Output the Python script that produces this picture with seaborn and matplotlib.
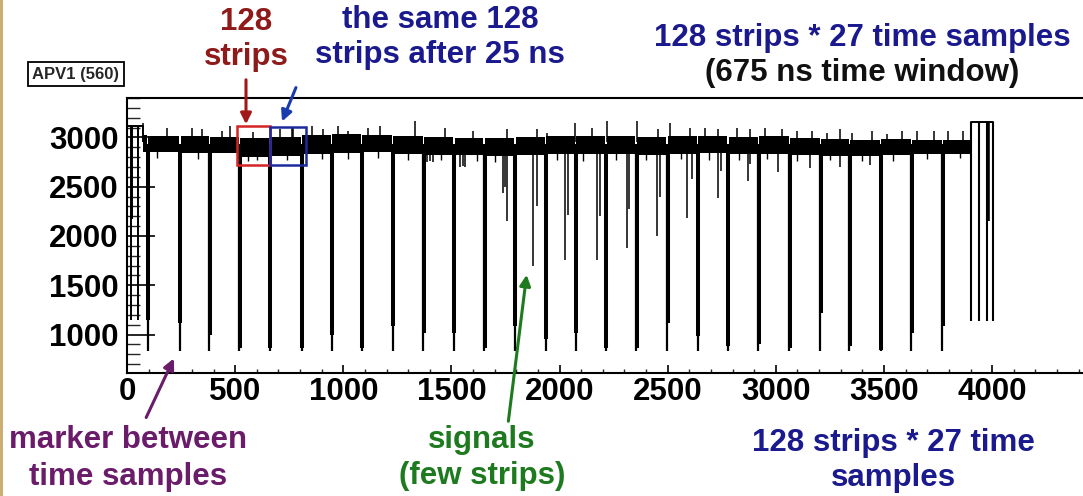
import matplotlib
matplotlib.use("Agg")
import matplotlib.pyplot as plt
import seaborn as sns
import pandas as pd
from matplotlib.patches import Rectangle, FancyArrowPatch
from matplotlib.ticker import MultipleLocator

# ---- APV raw frame: ADC value vs. sample index ----
# header samples before the first marker
header_end = 74
header_level = 3115
header_drop_pos = [18, 22, 49]
header_drop_val = [1150, 2170, 1150]

# synchronisation markers between time samples (27 of them)
marker_pos = [96, 245, 381, 519, 661, 808, 947, 1085, 1229, 1370, 1512, 1651, 1794, 1936,
              2075, 2214, 2354, 2497, 2639, 2778, 2919, 3063, 3205, 3340, 3484, 3627, 3769]
marker_deep = [830, 830, 830, 830, 830, 830, 830, 830, 830, 830, 830, 830, 830, 830,
               830, 830, 830, 830, 830, 830, 830, 830, 830, 830, 830, 830, 830]
marker_second = [1150, 1120, 1000, 860, 860, 860, 1000, 860, 1084, 1020, 1020, 860, 1084, 950,
                 1020, 860, 860, 1120, 983, 880, 900, 860, 1223, 880, 840, 1020, 1084]

# pedestal band (noise envelope) for each block of 128 strips
frame_end = 3901
band_hi = [3025, 3015, 3010, 3005, 2995, 3005, 3020, 3030, 3025, 3010, 3005, 2995, 2990, 3000,
           3010, 3015, 3010, 3005, 3010, 3015, 3005, 3010, 2995, 2980, 2975, 2980, 2975, 2970]
band_lo = [2850, 2850, 2845, 2840, 2805, 2815, 2835, 2845, 2850, 2835, 2825, 2820, 2815, 2820,
           2835, 2835, 2830, 2825, 2835, 2840, 2835, 2835, 2825, 2815, 2810, 2825, 2830, 2835]

# noisy strips sticking out above the pedestal
up_pos = [74, 183, 299, 345, 438, 476, 584, 707, 762, 769, 854, 908, 977, 1023, 1116, 1170,
          1332, 1470, 1601, 1756, 1894, 1941, 2072, 2149, 2218, 2357, 2457, 2511, 2603, 2673,
          2734, 2819, 2881, 2950, 3027, 3097, 3166, 3236, 3297, 3351, 3444, 3513, 3582, 3652,
          3729, 3798, 3867]
up_val = [3150, 3098, 3098, 3081, 3064, 3115, 3050, 3081, 3098, 3098, 3115, 3081, 3115, 3064,
          3098, 3115, 3166, 3098, 3064, 3081, 3081, 3047, 3150, 3098, 3166, 3166, 3081, 3150,
          3098, 3098, 3081, 3098, 3081, 3098, 3081, 3064, 3064, 3047, 3081, 3047, 3064, 3030,
          3064, 3064, 3064, 3064, 3064]

# small downward noise excursions below the pedestal
dn_pos = [140, 330, 560, 600, 738, 900, 1020, 1160, 1300, 1450, 1620, 1700, 1990, 2110,
          2260, 2400, 2560, 2690, 2830, 2960, 3100, 3250, 3400, 3540, 3700, 3850]
dn_val = [2790, 2780, 2760, 2770, 2770, 2780, 2785, 2790, 2775, 2770, 2760, 2750, 2770, 2765,
          2775, 2770, 2780, 2775, 2770, 2780, 2765, 2770, 2765, 2760, 2785, 2790]

# signals (few strips with charge)
sig_pos = [1386, 1401, 1416, 1540, 1552, 1563, 1740, 1748, 1756, 1879, 1894, 2025, 2041,
           2172, 2187, 2311, 2323, 2449, 2465, 2591, 2611, 2734, 2745, 2870, 2881, 3012, 3158,
           3297, 3436]
sig_val = [2746, 2760, 2746, 2695, 2710, 2700, 2440, 2500, 2150, 1693, 2300, 1760, 2218,
           1760, 2200, 1883, 2270, 2000, 2400, 2185, 2574, 2388, 2658, 2556, 2726, 2645, 2690,
           2700, 2720]

# trailer after the last block
tail_pos = [3901, 3940, 3976, 4006]
tail_top = 3155
tail_bottom = [1140, 1140, 1140, 1140]
tail_thick_val = 2150

W, H = 1083, 496


def fpos(x, y):
    return (x / W, 1 - y / H)


sns.set_theme(style="white")
plt.rcParams['font.family'] = ['Liberation Sans', 'DejaVu Sans']
plt.rcParams['font.weight'] = 'bold'

fig = plt.figure(figsize=(W / 100, H / 100), dpi=100)
fig.patch.set_facecolor('white')
ax = fig.add_axes([127 / W, 1 - 373 / H, (W - 127) / W, (373 - 98) / H])
ax.set_facecolor('white')

# pedestal band segments between markers
seg_start = [header_end] + [m + 3 for m in marker_pos]
seg_end = [m - 3 for m in marker_pos] + [frame_end]
for s, e, lo, hi in zip(seg_start, seg_end, band_lo, band_hi):
    ax.fill_between([s, e], [lo, lo], [hi, hi], color='black', lw=0)

# header trace
header = pd.DataFrame({'x': [0, header_end], 'y': [header_level, header_level]})
sns.lineplot(data=header, x='x', y='y', ax=ax, color='black', lw=1.4, estimator=None)
ax.vlines(header_drop_pos, header_drop_val, header_level, color='black', lw=1.4)
ax.vlines([header_end], 2950, header_level, color='black', lw=1.2)

# markers: a deep sample and its neighbour
ax.vlines(marker_pos, marker_deep, 2930, color='black', lw=1.6)
ax.vlines([m + 2 for m in marker_pos], marker_second, 2900, color='black', lw=2.9)

# noise spikes and signals
ax.vlines(up_pos, 2950, up_val, color='black', lw=1.1)
ax.vlines(dn_pos, dn_val, 2900, color='black', lw=1.0)
ax.vlines(sig_pos, sig_val, 2860, color='black', lw=1.1)

# trailer
tail = pd.DataFrame({'x': [tail_pos[0], tail_pos[-1]], 'y': [tail_top, tail_top]})
sns.lineplot(data=tail, x='x', y='y', ax=ax, color='black', lw=1.4, estimator=None)
ax.vlines(tail_pos, tail_bottom, tail_top, color='black', lw=1.5)
ax.vlines([tail_pos[2] + 3], tail_thick_val, tail_top, color='black', lw=2.6)

# highlight boxes
ax.add_patch(Rectangle((507, 2716), 154, 399, fill=False, ec='#D42424', lw=1.8, zorder=5))
ax.add_patch(Rectangle((661, 2720), 167, 385, fill=False, ec='#1C2A9E', lw=1.8, zorder=5))

# axes styling
ax.set_xlim(0, 4420)
ax.set_ylim(610, 3400)
ax.set_xticks(range(0, 4001, 500))
ax.set_yticks([1000, 1500, 2000, 2500, 3000])
ax.xaxis.set_minor_locator(MultipleLocator(100))
ax.yaxis.set_minor_locator(MultipleLocator(100))
ax.set_xlabel('')
ax.set_ylabel('')
ax.tick_params(axis='x', which='major', direction='in', length=6, width=1.2, pad=3,
               labelsize=22.5, colors='black', bottom=True)
ax.tick_params(axis='x', which='minor', direction='in', length=3, width=1.0, bottom=True)
ax.tick_params(axis='y', which='major', direction='in', length=20.5, width=1.2, pad=6,
               labelsize=22.5, colors='black', left=True)
ax.tick_params(axis='y', which='minor', direction='in', length=9.5, width=1.0, left=True)
for lab in ax.get_xticklabels() + ax.get_yticklabels():
    lab.set_fontweight('bold')
for side in ['left', 'bottom', 'top']:
    ax.spines[side].set_color('black')
    ax.spines[side].set_linewidth(1.5)
ax.spines['right'].set_visible(False)

# left page edge
fig.add_artist(Rectangle((0, 0), 3 / W, 1, transform=fig.transFigure, color='#CDAE72', lw=0))

# histogram title box
fig.text(*fpos(76, 74), 'APV1 (560)', fontsize=12, fontweight='bold', ha='center', va='center',
         bbox=dict(boxstyle='square,pad=0.25', fc='white', ec='black', lw=1.3))

# annotations
red = '#8E1A1A'
blue = '#1A1A8E'
purple = '#6A1B6A'
green = '#1E7A1E'
fs = 22.5


def label(x, y, s, c):
    fig.text(*fpos(x, y), s, color=c, fontsize=fs, fontweight='bold', ha='center', va='center')


label(246, 22, '128', red)
label(246, 57, 'strips', red)
label(440, 20, 'the same 128', blue)
label(440, 55, 'strips after 25 ns', blue)
label(862, 38, '128 strips * 27 time samples', blue)
label(862, 73, '(675 ns time window)', '#111111')
label(128, 440, 'marker between', purple)
label(128, 477, 'time samples', purple)
label(482, 440, 'signals', green)
label(482, 476, '(few strips)', green)
label(893, 443, '128 strips * 27 time', blue)
label(893, 478, 'samples', blue)


def arrow(p0, p1, c):
    fig.add_artist(FancyArrowPatch(fpos(*p0), fpos(*p1), transform=fig.transFigure,
                                   arrowstyle='-|>', mutation_scale=16, lw=2.2, color=c))


arrow((246, 77), (246, 127), '#A01818')
arrow((297, 85), (281, 124), '#1A3AB0')
arrow((145, 420), (175, 356), purple)
arrow((508, 424), (527, 272), green)

fig.savefig('out.png', dpi=100)
